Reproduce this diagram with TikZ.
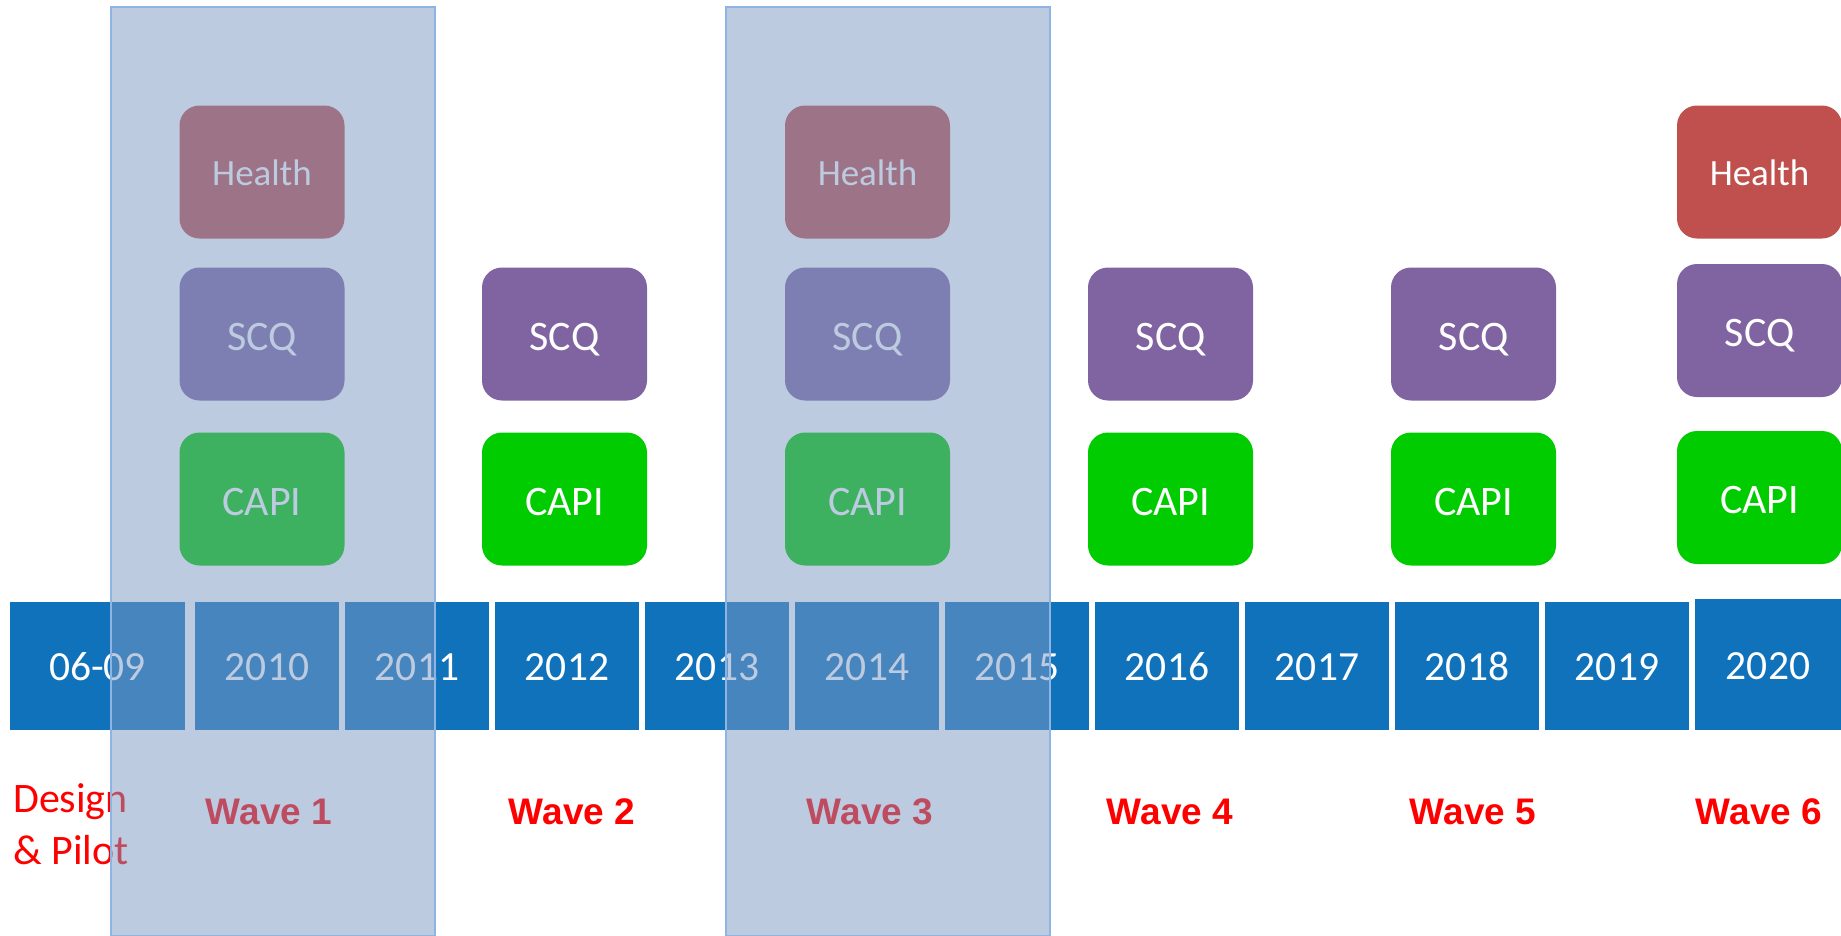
\documentclass[tikz,border=0pt]{standalone}
\usepackage{fontspec}
\setmainfont{Carlito}
\newfontfamily\arialfont{Liberation Sans}
\definecolor{yearblue}{RGB}{16,114,186}
\definecolor{healthred}{RGB}{192,80,77}
\definecolor{scqpurple}{RGB}{128,100,162}
\definecolor{capigreen}{RGB}{0,204,0}
\definecolor{overlayfill}{RGB}{124,152,194}
\definecolor{overlayline}{RGB}{141,180,226}
\definecolor{wavered}{RGB}{255,0,0}
\tikzset{
  yearbox/.style={fill=yearblue, text=white, minimum width=144pt, minimum height=128pt, inner sep=0pt, text height=28pt, text depth=0pt, font=\fontsize{41.5}{49}\selectfont},
  survey/.style={rounded corners=20pt, minimum width=165pt, minimum height=133pt, inner sep=0pt, text=white, text depth=0pt},
  healthbox/.style={survey, fill=healthred, text height=26pt, font=\fontsize{37}{44}\selectfont},
  scqbox/.style={survey, fill=scqpurple, text height=32pt, font=\fontsize{42}{50}\selectfont},
  capibox/.style={survey, fill=capigreen, text height=32pt, font=\fontsize{42}{50}\selectfont},
  wavelabel/.style={anchor=base, text=wavered, inner sep=0pt, font=\arialfont\bfseries\fontsize{37}{45}\selectfont},
  overlay/.style={fill=overlayfill, fill opacity=0.5, draw=overlayline, line width=1.5pt}
}
\begin{document}
\begin{tikzpicture}[x=1pt,y=-1pt]
\useasboundingbox (0,0) rectangle (1841,935);
% year boxes
\node[yearbox, minimum width=175pt] (y0609) at (97.5,666) {06-09};
\node[yearbox] (y2010) at (267,666) {2010};
\node[yearbox] (y2011) at (417,666) {2011};
\node[yearbox] (y2012) at (567,666) {2012};
\node[yearbox] (y2013) at (717,666) {2013};
\node[yearbox] (y2014) at (867,666) {2014};
\node[yearbox] (y2015) at (1017,666) {2015};
\node[yearbox] (y2016) at (1167,666) {2016};
\node[yearbox] (y2017) at (1317,666) {2017};
\node[yearbox] (y2018) at (1467,666) {2018};
\node[yearbox] (y2019) at (1617,666) {2019};
\node[yearbox, minimum width=146pt, minimum height=131pt, text height=29pt] (y2020) at (1768,664.5) {2020};
% wave 1
\node[healthbox] (h1) at (262,172) {Health};
\node[scqbox] (s1) at (262,334) {SCQ};
\node[capibox] (c1) at (262,499) {CAPI};
% wave 2
\node[scqbox] (s2) at (564.5,334) {SCQ};
\node[capibox] (c2) at (564.5,499) {CAPI};
% wave 3
\node[healthbox] (h3) at (867.5,172) {Health};
\node[scqbox] (s3) at (867.5,334) {SCQ};
\node[capibox] (c3) at (867.5,499) {CAPI};
% wave 4
\node[scqbox] (s4) at (1170.5,334) {SCQ};
\node[capibox] (c4) at (1170.5,499) {CAPI};
% wave 5
\node[scqbox] (s5) at (1473.5,334) {SCQ};
\node[capibox] (c5) at (1473.5,499) {CAPI};
% wave 6
\node[healthbox] (h6) at (1759.5,172) {Health};
\node[scqbox] (s6) at (1759.5,330.5) {SCQ};
\node[capibox] (c6) at (1759.5,497.5) {CAPI};
% labels
\node[anchor=base west, text=wavered, inner sep=0pt, align=left, font=\fontsize{42}{52}\selectfont] (dp) at (13,864) {Design\\\& Pilot};
\node[wavelabel] (w1) at (269,824) {Wave 1};
\node[wavelabel] (w2) at (572,824) {Wave 2};
\node[wavelabel] (w3) at (870,824) {Wave 3};
\node[wavelabel] (w4) at (1170,824) {Wave 4};
\node[wavelabel] (w5) at (1473,824) {Wave 5};
\node[wavelabel] (w6) at (1759,824) {Wave 6};
% overlays
\draw[overlay] (111,7) rectangle (435,936);
\draw[overlay] (726,7) rectangle (1050,936);
\end{tikzpicture}
\end{document}
